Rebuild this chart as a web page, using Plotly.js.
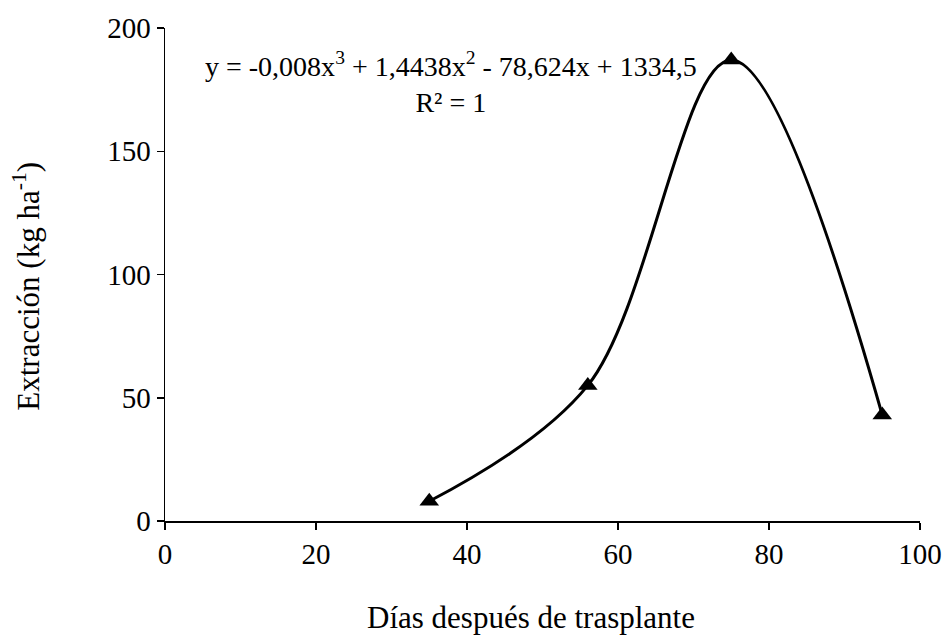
<!DOCTYPE html>
<html>
<head>
<meta charset="utf-8">
<script src="https://cdn.plot.ly/plotly-3.0.1.min.js"></script>
<style>html,body{margin:0;padding:0;background:#fff;}</style>
</head>
<body>
<div id="chart" style="width:949px;height:636px;"></div>
<script>
const dias = [35, 56, 75, 95];
const extraccion = [8, 55, 187, 43];
const xTicks = [0, 20, 40, 60, 80, 100];
const yTicks = [0, 50, 100, 150, 200];
const xTitle = 'Días después de trasplante';
const yTitle = 'Extracción (kg ha<sup>-1</sup>)';
const equation = 'y = -0,008x<sup>3</sup> + 1,4438x<sup>2</sup> - 78,624x + 1334,5<br>R² = 1';

const font = 'Liberation Serif, Times New Roman, serif';

const trace = {
  x: dias, y: extraccion, type: 'scatter', mode: 'lines+markers',
  line: {color: '#000', width: 3, shape: 'spline', smoothing: 1},
  marker: {symbol: 'triangle-up', size: 17, color: '#000'},
  cliponaxis: false, hoverinfo: 'skip'
};

const layout = {
  width: 949, height: 636,
  margin: {l: 165, r: 29, t: 28, b: 115},
  paper_bgcolor: '#fff', plot_bgcolor: '#fff',
  showlegend: false,
  font: {family: font, color: '#000', size: 29},
  xaxis: {
    range: [0, 100], tickvals: xTicks, ticktext: xTicks.map(String),
    showgrid: false, zeroline: false, showline: true, linecolor: '#000', linewidth: 1.5,
    ticks: 'outside', ticklen: 7, tickwidth: 1.5, tickcolor: '#000',
    tickfont: {family: font, size: 29, color: '#000'}
  },
  yaxis: {
    range: [0, 200], tickvals: yTicks, ticktext: yTicks.map(String),
    showgrid: false, zeroline: false, showline: true, linecolor: '#000', linewidth: 1.5,
    ticks: 'outside', ticklen: 7, tickwidth: 1.5, tickcolor: '#000',
    tickfont: {family: font, size: 29, color: '#000'}
  },
  annotations: [
    {text: equation, xref: 'x', yref: 'y', x: 37.9, y: 178, showarrow: false,
     align: 'center', xanchor: 'center', yanchor: 'middle',
     font: {family: font, size: 28, color: '#000'}},
    {text: yTitle, xref: 'paper', yref: 'paper', x: -0.183, y: 0.477, showarrow: false,
     textangle: -90, xanchor: 'center', yanchor: 'middle',
     font: {family: font, size: 31, color: '#000'}},
    {text: xTitle, xref: 'paper', yref: 'paper', x: 0.485, y: -0.195, showarrow: false,
     xanchor: 'center', yanchor: 'middle',
     font: {family: font, size: 31, color: '#000'}}
  ]
};

Plotly.newPlot('chart', [trace], layout, {displayModeBar: false, staticPlot: true});
</script>
</body>
</html>
